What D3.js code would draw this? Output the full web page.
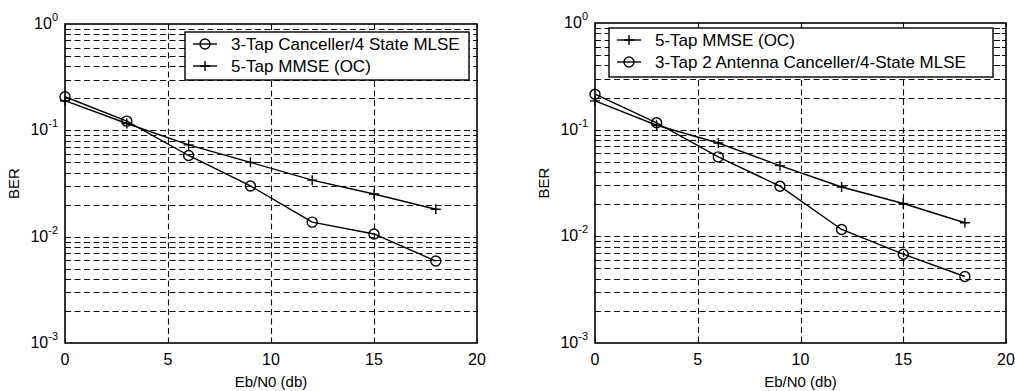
<!DOCTYPE html>
<html>
<head>
<meta charset="utf-8">
<script src="https://cdn.jsdelivr.net/npm/d3@7"></script>
<style>
  html, body { margin: 0; padding: 0; background: #fff; }
  svg { display: block; font-family: "Liberation Sans", Arial, sans-serif; }
</style>
</head>
<body>
<svg id="chart" width="1015" height="391"></svg>
<script>
// Eb/N0 points (db)
const ebn0 = [0, 3, 6, 9, 12, 15, 18];

// left panel
const leftCanceller = [0.207, 0.122, 0.058, 0.030, 0.0137, 0.0106, 0.0059];
const leftMmse = [0.19, 0.116, 0.073, 0.050, 0.034, 0.0252, 0.0181];

// right panel
const rightMmse = [0.186, 0.11, 0.075, 0.046, 0.029, 0.0203, 0.0134];
const rightCanceller = [0.215, 0.116, 0.0556, 0.0295, 0.0116, 0.0068, 0.0042];

const xTicks = [0, 5, 10, 15, 20];
const yExponents = [0, -1, -2, -3];

const leftLegend = ["3-Tap Canceller/4 State MLSE", "5-Tap MMSE (OC)"];
const rightLegend = ["5-Tap MMSE (OC)", "3-Tap 2 Antenna Canceller/4-State MLSE"];

const svg = d3.select("#chart");

function drawPanel(box, series, legend) {
  const g = svg.append("g");
  const x = d3.scaleLinear().domain([0, 20]).range([box.left, box.right]);
  const y = d3.scaleLog().domain([1e-3, 1]).range([box.bottom, box.top]);

  // log minor values for grid
  const minor = [];
  [-3, -2, -1].forEach(e => {
    for (let k = 2; k <= 9; k++) minor.push(k * Math.pow(10, e));
  });

  const grid = g.append("g")
    .attr("stroke", "#111")
    .attr("stroke-width", 1.1)
    .attr("stroke-dasharray", "6,3.5");

  grid.selectAll("line.hy")
    .data(minor.concat([0.1, 0.01]))
    .enter().append("line")
    .attr("x1", box.left).attr("x2", box.right)
    .attr("y1", d => Math.round(y(d)) + 0.5)
    .attr("y2", d => Math.round(y(d)) + 0.5);

  grid.selectAll("line.vx")
    .data([5, 10, 15])
    .enter().append("line")
    .attr("y1", box.top).attr("y2", box.bottom)
    .attr("x1", d => Math.round(x(d)) + 0.5)
    .attr("x2", d => Math.round(x(d)) + 0.5);

  // ticks inside the box
  const ticks = g.append("g").attr("stroke", "#000").attr("stroke-width", 1);
  minor.concat([0.1, 0.01]).forEach(v => {
    const yy = Math.round(y(v)) + 0.5;
    ticks.append("line").attr("x1", box.left).attr("x2", box.left + 4).attr("y1", yy).attr("y2", yy);
    ticks.append("line").attr("x1", box.right).attr("x2", box.right - 4).attr("y1", yy).attr("y2", yy);
  });
  xTicks.forEach(v => {
    const xx = Math.round(x(v)) + 0.5;
    ticks.append("line").attr("x1", xx).attr("x2", xx).attr("y1", box.bottom).attr("y2", box.bottom - 4);
    ticks.append("line").attr("x1", xx).attr("x2", xx).attr("y1", box.top).attr("y2", box.top + 4);
  });

  // series lines + markers
  const line = d3.line().x((d, i) => x(ebn0[i])).y(d => y(d));
  series.forEach(s => {
    g.append("path")
      .attr("d", line(s.values))
      .attr("fill", "none")
      .attr("stroke", "#000")
      .attr("stroke-width", 1.4);
    drawMarkers(g, s.marker, s.values.map((v, i) => [x(ebn0[i]), y(v)]));
  });

  // axes box
  g.append("rect")
    .attr("x", box.left).attr("y", box.top)
    .attr("width", box.right - box.left).attr("height", box.bottom - box.top)
    .attr("fill", "none").attr("stroke", "#000").attr("stroke-width", 1.6);

  // x tick labels
  g.selectAll("text.xt")
    .data(xTicks)
    .enter().append("text")
    .attr("x", d => x(d))
    .attr("y", box.bottom + 22)
    .attr("text-anchor", "middle")
    .attr("font-size", 16)
    .text(d => d);

  // y tick labels 10^n
  yExponents.forEach(e => {
    const t = g.append("text")
      .attr("x", box.left - 7)
      .attr("y", y(Math.pow(10, e)) + 5)
      .attr("text-anchor", "end")
      .attr("font-size", 16);
    t.append("tspan").text("10");
    t.append("tspan").attr("dy", -8).attr("font-size", 11).text(e);
  });

  g.append("text")
    .attr("transform", `translate(${box.left - 46},${(box.top + box.bottom) / 2}) rotate(-90)`)
    .attr("text-anchor", "middle")
    .attr("font-size", 15)
    .text("BER");

  g.append("text")
    .attr("x", (box.left + box.right) / 2)
    .attr("y", box.bottom + 44)
    .attr("text-anchor", "middle")
    .attr("font-size", 15)
    .text("Eb/N0 (db)");

  // legend
  const lg = g.append("g");
  lg.append("rect")
    .attr("x", legend.x).attr("y", legend.y)
    .attr("width", legend.w).attr("height", legend.h)
    .attr("fill", "#fff").attr("stroke", "#000").attr("stroke-width", 1.4);
  series.forEach((s, i) => {
    const yy = legend.y + 12 + i * 22;
    lg.append("line")
      .attr("x1", legend.x + 8).attr("x2", legend.x + 32)
      .attr("y1", yy).attr("y2", yy)
      .attr("stroke", "#000").attr("stroke-width", 1.4);
    drawMarkers(lg, s.marker, [[legend.x + 20, yy]]);
    lg.append("text")
      .attr("x", legend.x + 46)
      .attr("y", yy + 6)
      .attr("font-size", 17)
      .text(s.name);
  });
}

function drawMarkers(g, kind, pts) {
  if (kind === "o") {
    g.selectAll(null).data(pts).enter().append("circle")
      .attr("cx", d => d[0]).attr("cy", d => d[1]).attr("r", 5)
      .attr("fill", "none").attr("stroke", "#000").attr("stroke-width", 1.4);
  } else {
    g.selectAll(null).data(pts).enter().append("path")
      .attr("d", d => `M${d[0] - 5},${d[1]}H${d[0] + 5}M${d[0]},${d[1] - 5}V${d[1] + 5}`)
      .attr("stroke", "#000").attr("stroke-width", 1.4);
  }
}

drawPanel(
  { left: 65, right: 477, top: 24, bottom: 343 },
  [
    { name: leftLegend[0], marker: "o", values: leftCanceller },
    { name: leftLegend[1], marker: "+", values: leftMmse }
  ],
  { x: 185, y: 32, w: 284, h: 48 }
);

drawPanel(
  { left: 595, right: 1006, top: 23, bottom: 343 },
  [
    { name: rightLegend[0], marker: "+", values: rightMmse },
    { name: rightLegend[1], marker: "o", values: rightCanceller }
  ],
  { x: 609, y: 28, w: 384, h: 49 }
);
</script>
</body>
</html>
